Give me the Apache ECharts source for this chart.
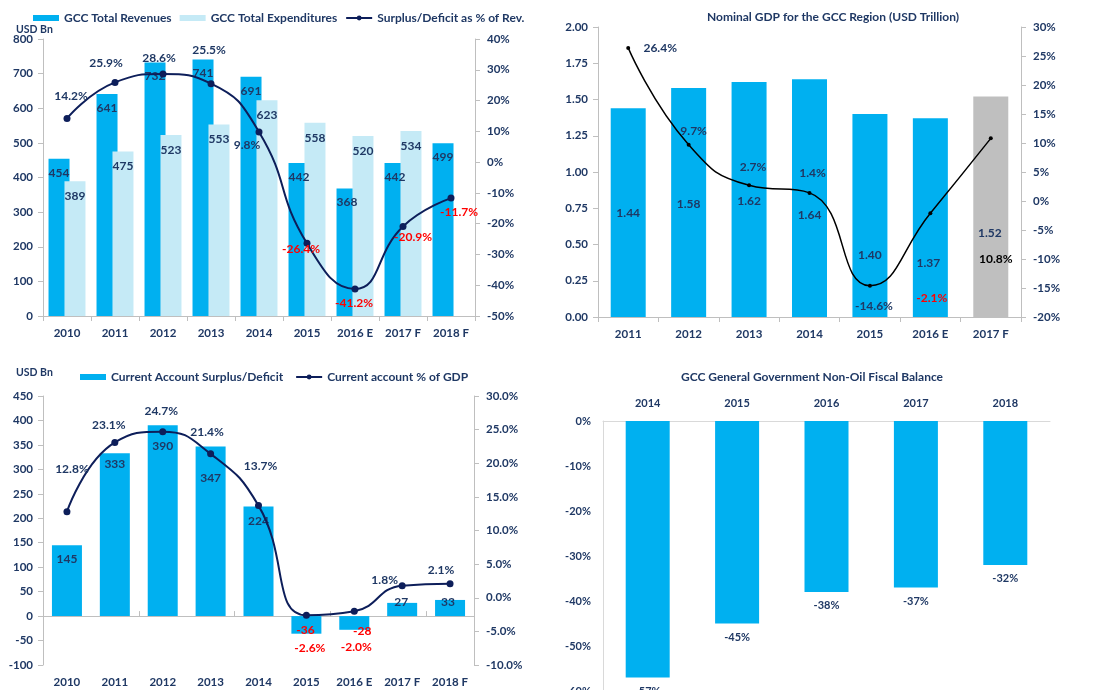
<!DOCTYPE html>
<html><head><meta charset="utf-8">
<script src="https://cdn.jsdelivr.net/npm/echarts@6/dist/echarts.min.js"></script>
<style>html,body{margin:0;padding:0;background:#fff}#c{width:1098px;height:690px}</style>
</head><body><div id="c"></div>
<script>
// ---------- DATA ----------
const years = ['2010','2011','2012','2013','2014','2015','2016 E','2017 F','2018 F'];
const revenues = [454,641,732,741,691,442,368,442,499];
const expenditures = [389,475,523,553,623,558,520,534,null];
const surplusPct = [14.2,25.9,28.6,25.5,9.8,-26.4,-41.2,-20.9,-11.7];

const gdpYears = ['2011','2012','2013','2014','2015','2016 E','2017 F'];
const gdp = [1.44,1.58,1.62,1.64,1.40,1.37,1.52];
const gdpGrowth = [26.4,9.7,2.7,1.4,-14.6,-2.1,10.8];

const currentAccount = [145,333,390,347,224,-36,-28,27,33];
const currentAccountPct = [12.8,23.1,24.7,21.4,13.7,-2.6,-2.0,1.8,2.1];

const fiscalYears = ['2014','2015','2016','2017','2018'];
const nonOilBalance = [-57,-45,-38,-37,-32];

// ---------- STYLE ----------
const NAVY='#1f3864', BLUE='#00b0f0', LIGHT='#c5eaf6', AX='#bfbfbf', RED='#ff0000', LINE='#0d1e5a';
const FONT='Lato';
const lblBase = {color:NAVY, fontFamily:FONT, fontWeight:'bold', fontSize:12};
const axLbl = {color:NAVY, fontFamily:FONT, fontWeight:'bold', fontSize:11.5};

// label placement tweaks (style only)
const p1LineOff = [[4,-22],[-9,-19],[-4,-16],[-2,-34],[-12,13],[-6,6],[-1,14],[10,11],[8,14]];
const p2BarOff = [[0,1],[0,2],[0,2],[0,17],[0,40],[-2,45],[-1,26]];
const p2LineOff = [[32,0],[5,-14],[4,-18],[3,-20],[4,20],[1.5,85],[5,121]];
const p2LineCol = [NAVY,NAVY,NAVY,NAVY,NAVY,RED,'#000'];
const p3BarOff = [[0,-21.5],[0,-71],[0,-74.5],[0,-53],[0,-40],[-1,5],[8,8],[-1,-7.5],[-2,-6]];
const p3LineOff = [[5,-43],[-6,-17],[-1.5,-21],[-3.5,-22],[2,-39],[3.5,33],[2,36],[-17.5,-6],[-9,-14]];

const pct1 = v => v.toFixed(1)+'%';

function catAxis(grid, data, extra){
  return Object.assign({
    type:'category', gridIndex:grid, data:data,
    axisLine:{show:true, onZero:false, lineStyle:{color:AX}},
    axisTick:{show:true, length:5, lineStyle:{color:AX}},
    axisLabel:Object.assign({margin:11}, axLbl),
    splitLine:{show:false}
  }, extra||{});
}
function valAxis(grid, min, max, interval, fmt, pos, extra){
  return Object.assign({
    type:'value', gridIndex:grid, min:min, max:max, interval:interval, position:pos,
    axisLine:{show:true, lineStyle:{color:AX}},
    axisTick:{show:true, length:5, lineStyle:{color:AX}},
    axisLabel:Object.assign({margin:10, formatter:fmt}, axLbl),
    splitLine:{show:false}
  }, extra||{});
}

const option = {
  animation:false,
  backgroundColor:'#fff',
  textStyle:{fontFamily:FONT},
  grid:[
    {left:43, right:623, top:39, bottom:374, outerBoundsMode:'none'},
    {left:598, right:77, top:27, bottom:373, outerBoundsMode:'none'},
    {left:43, right:624, top:396, bottom:25, outerBoundsMode:'none'},
    {left:603, right:48, top:421, bottom:-1, outerBoundsMode:'none'}
  ],
  legend:[
    {left:33, top:12, itemWidth:26, itemHeight:6, itemGap:8, padding:0,
     textStyle:{color:NAVY, fontFamily:FONT, fontWeight:'bold', fontSize:12},
     data:[{name:'GCC Total Revenues', icon:'rect'},{name:'GCC Total Expenditures', icon:'rect'},{name:'Surplus/Deficit as % of Rev.'}]},
    {left:80, top:371, itemWidth:26, itemHeight:6, itemGap:12, padding:0,
     textStyle:{color:NAVY, fontFamily:FONT, fontWeight:'bold', fontSize:12},
     data:[{name:'Current Account Surplus/Deficit', icon:'rect'},{name:'Current account % of GDP'}]}
  ],
  graphic:[
    {type:'text', x:16, y:30, style:{text:'USD Bn', font:'bold 10.5px Lato', fill:NAVY, textVerticalAlign:'middle', verticalAlign:'middle'}},
    {type:'text', x:16, y:373, style:{text:'USD Bn', font:'bold 10.5px Lato', fill:NAVY, textVerticalAlign:'middle', verticalAlign:'middle'}},
    {type:'text', x:833, y:17, style:{text:'Nominal GDP for the GCC Region (USD Trillion)', font:'bold 12px Lato', fill:NAVY, textAlign:'center', textVerticalAlign:'middle', verticalAlign:'middle'}},
    {type:'text', x:812, y:377, style:{text:'GCC General Government Non-Oil Fiscal Balance', font:'bold 12px Lato', fill:NAVY, textAlign:'center', textVerticalAlign:'middle', verticalAlign:'middle'}}
  ],
  xAxis:[
    catAxis(0, years),
    catAxis(1, gdpYears),
    catAxis(2, years, {axisLine:{show:false}, axisTick:{show:false}}),
    catAxis(2, years, {axisLine:{show:true, onZero:true, onZeroAxisIndex:4, lineStyle:{color:AX}}, axisLabel:{show:false}}),
    catAxis(3, fiscalYears, {position:'top', axisLine:{show:true, onZero:false, lineStyle:{color:'#d9d9d9'}}, axisTick:{show:false}, axisLabel:Object.assign({margin:12}, axLbl, {fontSize:11})})
  ],
  yAxis:[
    valAxis(0, 0, 800, 100, '{value}', 'left'),
    valAxis(0, -50, 40, 10, '{value}%', 'right', {axisLabel:Object.assign({margin:12, formatter:'{value}%'}, axLbl)}),
    valAxis(1, 0, 2, 0.25, v=>v.toFixed(2), 'left'),
    valAxis(1, -20, 30, 5, '{value}%', 'right', {axisLabel:Object.assign({margin:12, formatter:'{value}%'}, axLbl)}),
    valAxis(2, -100, 450, 50, '{value}', 'left'),
    valAxis(2, -10, 30, 5, v=>v.toFixed(1)+'%', 'right', {axisLabel:Object.assign({margin:12, formatter:v=>v.toFixed(1)+'%'}, axLbl)}),
    valAxis(3, -60, 0, 10, '{value}%', 'left', {axisLine:{show:true, lineStyle:{color:'#d9d9d9'}}, axisTick:{show:false}, axisLabel:Object.assign({margin:12, formatter:'{value}%'}, axLbl, {fontSize:11})})
  ],
  series:[
    // Panel 1
    {name:'GCC Total Revenues', type:'bar', xAxisIndex:0, yAxisIndex:0, data:revenues,
     barWidth:21, barGap:'-24%', itemStyle:{color:BLUE},
     label:Object.assign({show:true, position:'insideTop', distance:8}, lblBase)},
    {name:'GCC Total Expenditures', type:'bar', xAxisIndex:0, yAxisIndex:0, data:expenditures,
     barWidth:21, barGap:'-24%', itemStyle:{color:LIGHT},
     label:Object.assign({show:true, position:'insideTop', distance:9}, lblBase)},
    {name:'Surplus/Deficit as % of Rev.', type:'line', xAxisIndex:0, yAxisIndex:1, smooth:0.5,
     symbol:'circle', symbolSize:7, itemStyle:{color:LINE}, lineStyle:{color:LINE, width:2},
     data:surplusPct.map((v,i)=>({value:v, label:{offset:p1LineOff[i], color:v<0?RED:NAVY}})),
     label:Object.assign({show:true, position:'inside', formatter:p=>pct1(p.value)}, lblBase)},
    // Panel 2
    {name:'GDP', type:'bar', xAxisIndex:1, yAxisIndex:2, barWidth:35,
     data:gdp.map((v,i)=>({value:v, itemStyle:{color:i===gdp.length-1?'#bfbfbf':BLUE}, label:{offset:p2BarOff[i]}})),
     label:Object.assign({show:true, position:'inside', formatter:p=>p.value.toFixed(2)}, lblBase)},
    {name:'GDP growth', type:'line', xAxisIndex:1, yAxisIndex:3, smooth:0.5,
     symbol:'circle', symbolSize:4, itemStyle:{color:'#000'}, lineStyle:{color:'#000', width:1.5},
     data:gdpGrowth.map((v,i)=>({value:v, label:{offset:p2LineOff[i], color:p2LineCol[i]}})),
     label:Object.assign({show:true, position:'inside', formatter:p=>pct1(p.value)}, lblBase)},
    // Panel 3
    {name:'Current Account Surplus/Deficit', type:'bar', xAxisIndex:2, yAxisIndex:4, barWidth:30,
     itemStyle:{color:BLUE},
     data:currentAccount.map((v,i)=>({value:v, label:{offset:p3BarOff[i], color:v<0?RED:NAVY}})),
     label:Object.assign({show:true, position:'inside'}, lblBase)},
    {name:'Current account % of GDP', type:'line', xAxisIndex:2, yAxisIndex:5, smooth:0.5,
     symbol:'circle', symbolSize:7, itemStyle:{color:LINE}, lineStyle:{color:LINE, width:2},
     data:currentAccountPct.map((v,i)=>({value:v, label:{offset:p3LineOff[i], color:v<0?RED:NAVY}})),
     label:Object.assign({show:true, position:'inside', formatter:p=>pct1(p.value)}, lblBase)},
    // Panel 4
    {name:'Non-Oil Fiscal Balance', type:'bar', xAxisIndex:4, yAxisIndex:6, barWidth:44,
     itemStyle:{color:BLUE}, data:nonOilBalance,
     label:Object.assign({show:true, position:'bottom', distance:8, formatter:'{c}%'}, lblBase, {fontSize:11})}
  ]
};
const chart = echarts.init(document.getElementById('c'));
chart.setOption(option);
</script>
</body></html>
